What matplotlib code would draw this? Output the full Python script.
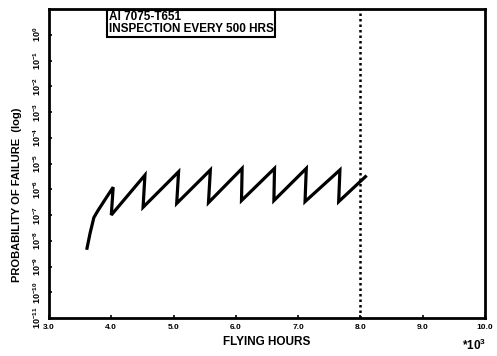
import numpy as np
import matplotlib
matplotlib.use("Agg")
import matplotlib.pyplot as plt

hours = [3.61, 3.66, 3.72, 3.78, 3.90, 4.03,
         4.00, 4.54,
         4.51, 5.08,
         5.05, 5.59,
         5.56, 6.10,
         6.09, 6.62,
         6.61, 7.13,
         7.11, 7.67,
         7.65, 8.08]
log_pf = [-8.29, -7.70, -7.10, -6.85, -6.40, -5.92,
          -7.00, -5.45,
          -6.70, -5.32,
          -6.55, -5.25,
          -6.52, -5.19,
          -6.44, -5.19,
          -6.44, -5.19,
          -6.48, -5.25,
          -6.48, -5.51]

x_ticks = [3.0, 4.0, 5.0, 6.0, 7.0, 8.0, 9.0, 10.0]
y_decades = list(range(-11, 1))
limit_hours = 8.0
note = "Al 7075-T651\nINSPECTION EVERY 500 HRS"

plt.rcParams['font.family'] = ['Liberation Sans', 'DejaVu Sans']
plt.rcParams['mathtext.fontset'] = 'custom'
plt.rcParams['mathtext.bf'] = 'Liberation Sans:bold'
plt.rcParams['mathtext.rm'] = 'Liberation Sans:bold'

fig = plt.figure(figsize=(4.97, 3.56), dpi=100)
ax = fig.add_axes([0.0986, 0.1067, 0.8774, 0.8680])

ax.plot(hours, np.power(10.0, log_pf), color="black", lw=2.3,
        solid_joinstyle="miter")
ax.axvline(limit_hours, color="black", lw=1.8, ls=(0, (1, 1.2)))

ax.set_yscale("log")
ax.set_xlim(3.0, 10.0)
ax.set_ylim(1e-11, 1e1)

ax.set_xticks(x_ticks)
ax.set_xticklabels([f"{t:.1f}" for t in x_ticks], fontsize=6, fontweight="bold")
ax.set_yticks([10.0 ** d for d in y_decades])
ax.set_yticklabels([r"$\mathbf{10^{%d}}$" % d for d in y_decades],
                   fontsize=6.5, rotation=90, va="center")
ax.yaxis.set_minor_locator(matplotlib.ticker.NullLocator())
ax.tick_params(axis="both", length=2, width=1.2, direction="in", pad=4)

for sp in ax.spines.values():
    sp.set_linewidth(2)

ax.set_xlabel("FLYING HOURS", fontsize=8.5, fontweight="bold", labelpad=4)
ax.set_ylabel("PROBABILITY OF FAILURE  (log)", fontsize=8, fontweight="bold")
ax.yaxis.set_label_coords(-0.062, 0.40)
fig.text(0.978, 0.018, r"$\mathbf{*10^{3}}$", fontsize=8.5, ha="right")

ax.text(0.137, 0.992, note, transform=ax.transAxes, fontsize=8.5,
        fontweight="bold", va="top", ha="left", linespacing=1.0,
        bbox=dict(boxstyle="square,pad=0.15", fc="white", ec="black", lw=1.5))

fig.savefig("out.png", dpi=100)
